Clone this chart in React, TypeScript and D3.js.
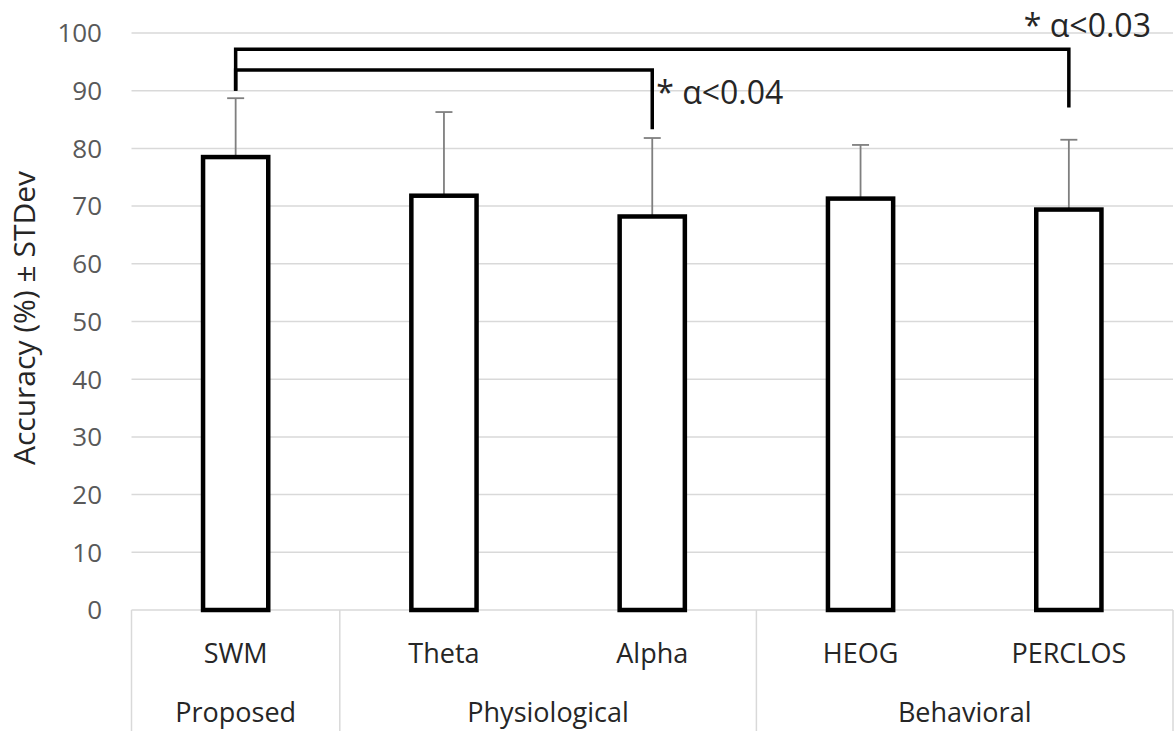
import React, { useEffect, useRef } from "react";
import * as d3 from "d3";

const categories = ["SWM", "Theta", "Alpha", "HEOG", "PERCLOS"];
const groups = ["Proposed", "Physiological", "Physiological", "Behavioral", "Behavioral"];
const accuracy = [78.5, 71.8, 68.2, 71.3, 69.4];
const stdev = [10.2, 14.5, 13.6, 9.3, 12.1];
const yTicks = [0, 10, 20, 30, 40, 50, 60, 70, 80, 90, 100];

// significance brackets: from, to, bracket level, start/end heights, label
const sigFrom = ["SWM", "SWM"];
const sigTo = ["Alpha", "PERCLOS"];
const sigLevel = [93.6, 97.2];
const sigStart = [90, 90];
const sigEnd = [83.3, 87.1];
const sigLabel = ["* α<0.04", "* α<0.03"];

export default function App() {
  const ref = useRef<SVGSVGElement>(null);

  useEffect(() => {
    const svg = d3.select(ref.current);
    svg.selectAll("*").remove();

    const height = 731;
    const left = 131.5;
    const right = 1173;
    const font = "'Open Sans', 'Noto Sans', sans-serif";

    const x = d3.scaleBand<string>().domain(categories).range([left, right]).padding(0);
    const y = d3.scaleLinear().domain([0, 100]).range([610, 33]);
    const bw = x.bandwidth();
    const barW = bw * 0.313;
    const cx = (c: string) => (x(c) as number) + bw / 2;

    // gridlines
    svg
      .append("g")
      .selectAll("line")
      .data(yTicks)
      .join("line")
      .attr("x1", left)
      .attr("x2", right)
      .attr("y1", (d) => y(d))
      .attr("y2", (d) => y(d))
      .attr("stroke", "#d9d9d9")
      .attr("stroke-width", 1.5);

    // tick labels
    svg
      .append("g")
      .selectAll("text")
      .data(yTicks)
      .join("text")
      .attr("x", 102)
      .attr("y", (d) => y(d))
      .attr("dy", "0.36em")
      .attr("text-anchor", "end")
      .attr("font-family", font)
      .attr("font-size", 26)
      .attr("fill", "#595959")
      .text((d) => d);

    // axis title
    svg
      .append("text")
      .attr("transform", `translate(35,318) rotate(-90)`)
      .attr("text-anchor", "middle")
      .attr("font-family", font)
      .attr("font-size", 30)
      .attr("fill", "#262626")
      .text("Accuracy (%) ± STDev");

    // category box: group dividers
    const bounds = [left];
    groups.forEach((g, i) => {
      if (i > 0 && g !== groups[i - 1]) bounds.push(x(categories[i]) as number);
    });
    bounds.push(right);
    svg
      .append("g")
      .selectAll("line")
      .data(bounds)
      .join("line")
      .attr("x1", (d) => d)
      .attr("x2", (d) => d)
      .attr("y1", y(0))
      .attr("y2", height)
      .attr("stroke", "#d9d9d9")
      .attr("stroke-width", 1.5);

    // category labels
    svg
      .append("g")
      .selectAll("text")
      .data(categories)
      .join("text")
      .attr("x", (d) => cx(d))
      .attr("y", 663)
      .attr("text-anchor", "middle")
      .attr("font-family", font)
      .attr("font-size", 27)
      .attr("fill", "#262626")
      .text((d) => d);

    // group labels
    const uniq = Array.from(new Set(groups));
    svg
      .append("g")
      .selectAll("text")
      .data(uniq)
      .join("text")
      .attr("x", (g) => {
        const cs = categories.filter((_, i) => groups[i] === g);
        return d3.mean(cs, (c) => cx(c)) as number;
      })
      .attr("y", 722)
      .attr("text-anchor", "middle")
      .attr("font-family", font)
      .attr("font-size", 27)
      .attr("fill", "#262626")
      .text((d) => d);

    // error bars (upper only)
    const eb = svg.append("g").attr("stroke", "#7f7f7f").attr("stroke-width", 1.8);
    categories.forEach((c, i) => {
      eb.append("line")
        .attr("x1", cx(c))
        .attr("x2", cx(c))
        .attr("y1", y(accuracy[i]))
        .attr("y2", y(accuracy[i] + stdev[i]));
      eb.append("line")
        .attr("x1", cx(c) - 8.5)
        .attr("x2", cx(c) + 8.5)
        .attr("y1", y(accuracy[i] + stdev[i]))
        .attr("y2", y(accuracy[i] + stdev[i]));
    });

    // bars
    svg
      .append("g")
      .selectAll("rect")
      .data(categories)
      .join("rect")
      .attr("x", (d) => cx(d) - barW / 2)
      .attr("width", barW)
      .attr("y", (_, i) => y(accuracy[i]))
      .attr("height", (_, i) => y(0) - y(accuracy[i]))
      .attr("fill", "#ffffff")
      .attr("stroke", "#000000")
      .attr("stroke-width", 4.5);

    // significance brackets
    sigFrom.forEach((f, i) => {
      const x1 = cx(f);
      const x2 = cx(sigTo[i]);
      const path = d3.path();
      path.moveTo(x1, y(sigStart[i]));
      path.lineTo(x1, y(sigLevel[i]));
      path.lineTo(x2, y(sigLevel[i]));
      path.lineTo(x2, y(sigEnd[i]));
      svg
        .append("path")
        .attr("d", path.toString())
        .attr("fill", "none")
        .attr("stroke", "#000000")
        .attr("stroke-width", 3.5);
    });

    svg
      .append("text")
      .attr("x", cx("Alpha") + 4)
      .attr("y", 104)
      .attr("font-family", font)
      .attr("font-size", 32)
      .attr("fill", "#262626")
      .text(sigLabel[0]);

    svg
      .append("text")
      .attr("x", cx("PERCLOS") - 45)
      .attr("y", 37)
      .attr("font-family", font)
      .attr("font-size", 32)
      .attr("fill", "#262626")
      .text(sigLabel[1]);
  }, []);

  return (
    <svg
      ref={ref}
      width={1176}
      height={731}
      style={{ position: "absolute", left: 0, top: 0, background: "#fff" }}
    />
  );
}
